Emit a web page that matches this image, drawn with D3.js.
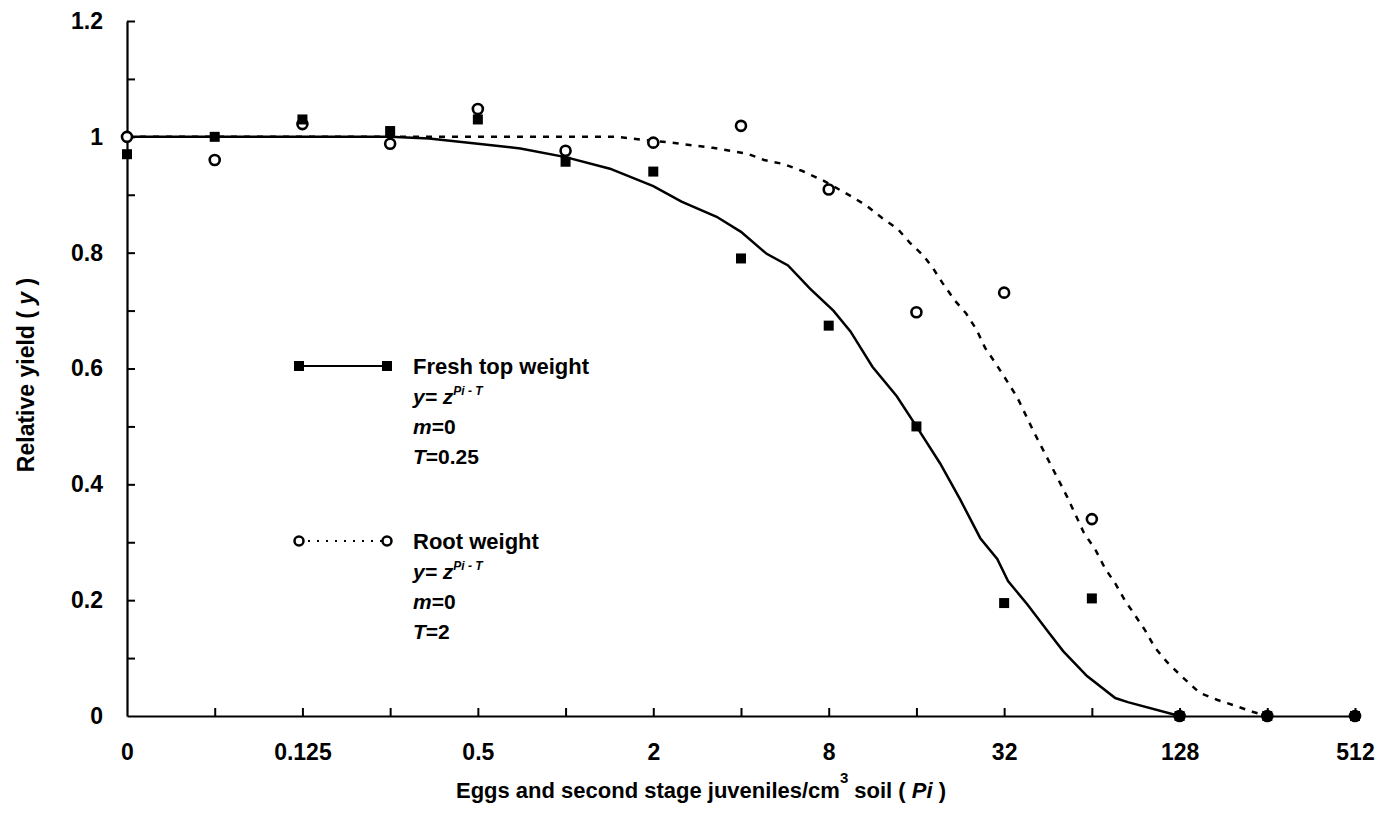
<!DOCTYPE html>
<html>
<head>
<meta charset="utf-8">
<script src="https://cdn.jsdelivr.net/npm/d3@7"></script>
<style>
  body { margin: 0; background: #fff; }
  text { font-family: "Liberation Sans", Arial, sans-serif; font-weight: bold; fill: #000; }
</style>
</head>
<body>
<script>
// nematode density levels (0 = control, plotted on the axis)
var piLevels = [0, 0.0625, 0.125, 0.25, 0.5, 1, 2, 4, 8, 16, 32, 64, 128, 256, 512];
var freshTop = [0.97, 1.0, 1.03, 1.01, 1.03, 0.957, 0.94, 0.79, 0.674, 0.50, 0.195, 0.203, 0.0, 0.0, 0.0];
var rootWeight = [1.0, 0.96, 1.022, 0.988, 1.048, 0.976, 0.99, 1.019, 0.909, 0.697, 0.731, 0.34, 0.0, 0.0, 0.0];

// fitted curves
var freshFitPi = [0, 0.25, 0.34, 0.5, 0.7, 1, 1.42, 2, 2.5, 3.3, 4, 4.9, 5.8, 6.9, 8.3, 9.5, 11.3, 13.7, 16, 19.3, 22.6, 26.5, 30.3, 33, 38.4, 46, 51, 61.6, 77, 85, 128];
var freshFitY  = [1, 1, 0.997, 0.988, 0.98, 0.965, 0.945, 0.915, 0.888, 0.862, 0.836, 0.798, 0.778, 0.738, 0.70, 0.664, 0.603, 0.552, 0.50, 0.436, 0.374, 0.307, 0.271, 0.233, 0.193, 0.141, 0.112, 0.069, 0.031, 0.024, 0];
var rootFitPi = [0, 1.5, 2, 2.3, 3.2, 4.2, 4.8, 5.6, 6.5, 7.7, 9.5, 10.8, 12.2, 13.8, 15.2, 16.9, 18.3, 19.7, 21.7, 23.7, 25.8, 27.5, 29.8, 32.2, 35.5, 40.5, 46, 52.7, 60, 66, 71, 77, 83, 90, 97.5, 105, 116, 131, 150, 172, 195, 229, 256];
var rootFitY  = [1, 1, 0.993, 0.99, 0.981, 0.971, 0.96, 0.953, 0.941, 0.924, 0.898, 0.881, 0.86, 0.841, 0.817, 0.795, 0.772, 0.747, 0.717, 0.695, 0.666, 0.636, 0.61, 0.584, 0.55, 0.49, 0.436, 0.378, 0.317, 0.286, 0.255, 0.229, 0.2, 0.174, 0.148, 0.119, 0.093, 0.067, 0.04, 0.028, 0.019, 0.007, 0];

var xTickValues = [0, 0.0625, 0.125, 0.25, 0.5, 1, 2, 4, 8, 16, 32, 64, 128, 256, 512];
var xTickLabels = ["0", "", "0.125", "", "0.5", "", "2", "", "8", "", "32", "", "128", "", "512"];
var yTickValues = [0, 0.1, 0.2, 0.3, 0.4, 0.5, 0.6, 0.7, 0.8, 0.9, 1.0, 1.1, 1.2];

var W = 1389, H = 824;
var svg = d3.select("body").append("svg")
    .attr("width", W)
    .attr("height", H);

// log2 axis, the control sits at 1/32
var x = d3.scaleLog().base(2).domain([1/32, 512]).range([127, 1355]);
var y = d3.scaleLinear().domain([0, 1.2]).range([716, 21]);
function xp(p) { return x(p === 0 ? 1/32 : p); }

// x axis
var xAxis = d3.axisBottom(x)
    .tickValues(xTickValues.map(function(p) { return p === 0 ? 1/32 : p; }))
    .tickSizeInner(-8).tickSizeOuter(0)
    .tickFormat(function(d, i) { return xTickLabels[i]; });
var gx = svg.append("g")
    .attr("transform", "translate(0," + y(0) + ")")
    .call(xAxis);
gx.select(".domain").attr("stroke", "#000").attr("stroke-width", 2.2);
gx.selectAll(".tick line").attr("stroke", "#000").attr("stroke-width", 2);
gx.selectAll(".tick").filter(function(d, i) { return i === 0; }).select("line").remove();
gx.selectAll(".tick text")
    .attr("y", 28)
    .attr("font-size", 23)
    .attr("font-family", "Liberation Sans, Arial, sans-serif")
    .attr("font-weight", "bold")
    .attr("fill", "#000");

// y axis
var yAxis = d3.axisLeft(y)
    .tickValues(yTickValues)
    .tickSizeInner(-8).tickSizeOuter(0)
    .tickFormat(function(d) {
      var r = Math.round(d * 10);
      return r % 2 === 0 ? d3.format("~g")(r / 10) : "";
    });
var gy = svg.append("g")
    .attr("transform", "translate(" + x(1/32) + ",0)")
    .call(yAxis);
gy.select(".domain").attr("stroke", "#000").attr("stroke-width", 2.2);
gy.selectAll(".tick line").attr("stroke", "#000").attr("stroke-width", 2);
gy.selectAll(".tick").filter(function(d) { return d === 0; }).select("line").remove();
gy.selectAll(".tick text")
    .attr("x", -24)
    .attr("font-size", 23)
    .attr("font-family", "Liberation Sans, Arial, sans-serif")
    .attr("font-weight", "bold")
    .attr("fill", "#000");

// fitted lines
var line = d3.line()
    .x(function(d) { return xp(d[0]); })
    .y(function(d) { return y(d[1]); });

svg.append("path")
    .datum(d3.zip(freshFitPi, freshFitY))
    .attr("fill", "none")
    .attr("stroke", "#000")
    .attr("stroke-width", 2.5)
    .attr("d", line);

svg.append("path")
    .datum(d3.zip(rootFitPi, rootFitY))
    .attr("fill", "none")
    .attr("stroke", "#000")
    .attr("stroke-width", 2.5)
    .attr("stroke-dasharray", "6,7")
    .attr("d", line);

// observed points
var sq = 10;
svg.selectAll(".root")
    .data(d3.zip(piLevels, rootWeight))
    .enter().append("circle")
    .attr("class", "root")
    .attr("cx", function(d) { return xp(d[0]); })
    .attr("cy", function(d) { return y(d[1]); })
    .attr("r", 5)
    .attr("fill", "#fff")
    .attr("stroke", "#000")
    .attr("stroke-width", 2.6);

svg.selectAll(".fresh")
    .data(d3.zip(piLevels, freshTop))
    .enter().append("rect")
    .attr("class", "fresh")
    .attr("x", function(d) { return xp(d[0]) - sq / 2; })
    .attr("y", function(d) { return y(d[1]) - sq / 2; })
    .attr("width", sq)
    .attr("height", sq)
    .attr("fill", "#000");

// legend
function legendBlock(top, name, tval, solid) {
  var g = svg.append("g");
  g.append("line")
      .attr("x1", 299).attr("x2", 387)
      .attr("y1", top).attr("y2", top)
      .attr("stroke", "#000")
      .attr("stroke-width", 2)
      .attr("stroke-dasharray", solid ? null : "2,7");
  [299, 387].forEach(function(cx) {
    if (solid) {
      g.append("rect").attr("x", cx - 5).attr("y", top - 5)
          .attr("width", 10).attr("height", 10).attr("fill", "#000");
    } else {
      g.append("circle").attr("cx", cx).attr("cy", top).attr("r", 4.5)
          .attr("fill", "#fff").attr("stroke", "#000").attr("stroke-width", 2.5);
    }
  });
  var tx = 413;
  g.append("text").attr("x", tx).attr("y", top + 8)
      .attr("font-size", 22).text(name);
  var f = g.append("text").attr("x", tx).attr("y", top + 38)
      .attr("font-size", 21).attr("font-style", "italic");
  f.append("tspan").text("y= z");
  f.append("tspan").attr("font-size", 12).attr("dy", -9).text("Pi - T");
  var m = g.append("text").attr("x", tx).attr("y", top + 68).attr("font-size", 21);
  m.append("tspan").attr("font-style", "italic").text("m");
  m.append("tspan").text("=0");
  var t = g.append("text").attr("x", tx).attr("y", top + 98).attr("font-size", 21);
  t.append("tspan").attr("font-style", "italic").text("T");
  t.append("tspan").text("=" + tval);
}
legendBlock(366, "Fresh top weight", "0.25", true);
legendBlock(541, "Root weight", "2", false);

// axis titles
var xt = svg.append("text")
    .attr("x", 701).attr("y", 798)
    .attr("text-anchor", "middle")
    .attr("font-size", 22);
xt.append("tspan").text("Eggs and second stage juveniles/cm");
xt.append("tspan").attr("font-size", 15).attr("dy", -15).text("3");
xt.append("tspan").attr("dy", 15).text(" soil ( ");
xt.append("tspan").attr("font-style", "italic").text("Pi");
xt.append("tspan").text(" )");

var yt = svg.append("text")
    .attr("transform", "translate(34,375) rotate(-90)")
    .attr("text-anchor", "middle")
    .attr("font-size", 23);
yt.append("tspan").text("Relative yield ( ");
yt.append("tspan").attr("font-style", "italic").text("y");
yt.append("tspan").text(" )");
</script>
</body>
</html>
